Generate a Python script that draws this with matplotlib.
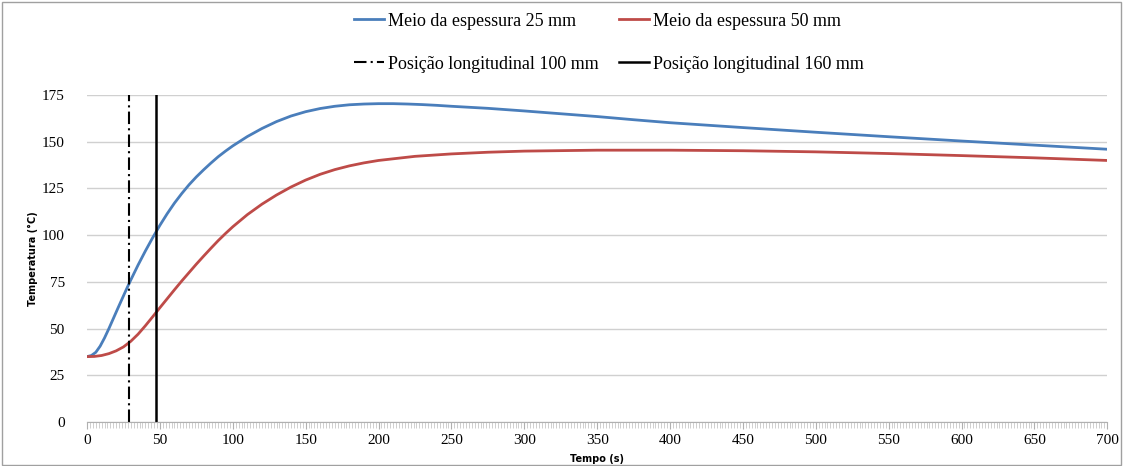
import matplotlib.pyplot as plt
from matplotlib.ticker import MultipleLocator

# values
tempo_25 = [0, 3, 6, 9, 12, 15, 18, 21, 24, 27, 30, 35, 40, 45, 50, 55, 60, 65, 70, 75, 80, 85,
            90, 95, 100, 110, 120, 130, 140, 150, 160, 170, 180, 190, 200, 210, 220, 230, 240,
            250, 275, 300, 325, 350, 375, 400, 450, 500, 550, 600, 650, 700]
esp_25 = [35, 35.6, 37.3, 40.6, 45, 50, 55.3, 60.6, 65.8, 71, 76, 84, 91.5, 98.6, 105.3, 111.5,
          117.2, 122.3, 127, 131.2, 135, 138.6, 142, 145, 147.8, 152.8, 157.1, 160.8, 163.8,
          166.1, 167.8, 169, 169.8, 170.2, 170.4, 170.4, 170.2, 169.9, 169.5, 169, 167.9,
          166.5, 165, 163.5, 161.8, 160.2, 157.6, 155.1, 152.7, 150.4, 148.2, 146]
tempo_50 = [0, 5, 10, 15, 20, 25, 30, 35, 40, 45, 50, 55, 60, 65, 70, 75, 80, 85, 90, 95, 100,
            110, 120, 130, 140, 150, 160, 170, 180, 190, 200, 225, 250, 275, 300, 350, 400,
            450, 500, 550, 600, 650, 700]
esp_50 = [35, 35.1, 35.6, 36.6, 38.1, 40.2, 43.2, 47, 51.5, 56.3, 61.2, 66, 70.8, 75.5, 80,
          84.5, 88.8, 93, 97.1, 100.9, 104.5, 111, 116.6, 121.5, 125.8, 129.5, 132.6, 135.1,
          137.1, 138.7, 140, 142.2, 143.5, 144.4, 145, 145.5, 145.5, 145.2, 144.6, 143.7,
          142.6, 141.4, 140]
pos_100 = 29
pos_160 = 47

plt.rcParams['font.family'] = ['Liberation Serif', 'DejaVu Serif']

fig = plt.figure(figsize=(11.23, 4.66), dpi=100)
ax = fig.add_axes([0.0775, 0.0944, 0.9085, 0.7016])

l25, = ax.plot(tempo_25, esp_25, color='#4a7ebb', linewidth=2, label='Meio da espessura 25 mm')
l50, = ax.plot(tempo_50, esp_50, color='#be4b48', linewidth=2, label='Meio da espessura 50 mm')
l100, = ax.plot([pos_100, pos_100], [0, 175], color='black', linewidth=1.5,
                linestyle=(0, (6, 2, 1, 2)), label='Posição longitudinal 100 mm')
l160, = ax.plot([pos_160, pos_160], [0, 175], color='black', linewidth=1.8,
                label='Posição longitudinal 160 mm')

ax.set_xlim(0, 700)
ax.set_ylim(0, 175)
ax.xaxis.set_major_locator(MultipleLocator(50))
ax.xaxis.set_minor_locator(MultipleLocator(2))
ax.yaxis.set_major_locator(MultipleLocator(25))
ax.grid(True, axis='y', color='#d0d0d0', linewidth=1)
ax.set_axisbelow(True)
for s in ['top', 'right', 'left']:
    ax.spines[s].set_visible(False)
ax.spines['bottom'].set_color('#b0b0b0')
ax.tick_params(axis='x', which='major', length=5, color='#b0b0b0', labelsize=11)
ax.tick_params(axis='x', which='minor', length=4, color='#c8c8c8', width=0.6)
ax.tick_params(axis='y', length=0, labelsize=11, pad=16)

ax.set_xlabel('Tempo (s)', fontsize=7, fontweight='bold', family='DejaVu Sans', labelpad=5)
ax.set_ylabel('Temperatura (°C)', fontsize=7, fontweight='bold', family='DejaVu Sans', labelpad=3)

# legend: row 1 the two curves, row 2 the two positions
fig.legend([l25, l100, l50, l160],
           [l25.get_label(), l100.get_label(), l50.get_label(), l160.get_label()],
           loc='upper center', bbox_to_anchor=(0.542, 1.008), ncol=2, frameon=False,
           fontsize=13, handlelength=1.7, columnspacing=1.1, labelspacing=1.45, handletextpad=0.2)

fig.patches.append(plt.Rectangle((0.002, 0.002), 0.996, 0.994, transform=fig.transFigure,
                                 fill=False, edgecolor='#a0a0a0', linewidth=1))

plt.savefig('out.png', dpi=100)
